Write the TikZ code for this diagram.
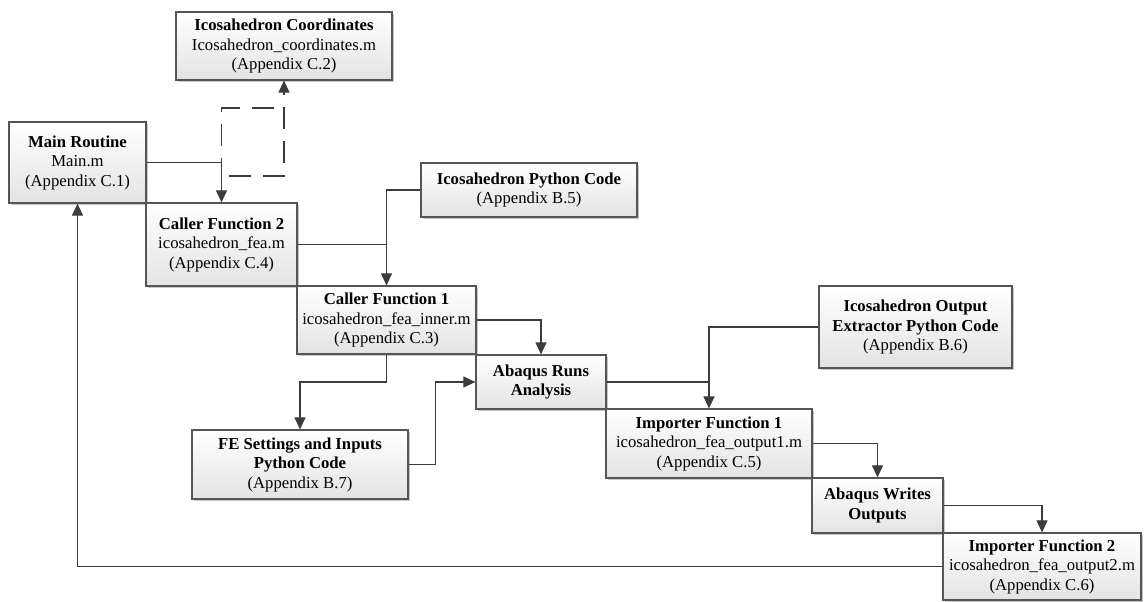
\documentclass[tikz,border=0pt]{standalone}
\usepackage{fontspec}
\setmainfont{Liberation Serif}
\usetikzlibrary{arrows.meta,shadows}
\definecolor{boxline}{HTML}{555555}
\definecolor{connline}{HTML}{3C3C3C}
\tikzset{
  box/.style={draw=boxline, line width=1.2pt, top color=white, bottom color=black!11,
    inner sep=0pt, align=center, font=\fontsize{16.7}{19.5}\selectfont,
    drop shadow={shadow xshift=1.6pt, shadow yshift=-1.6pt, fill=black!40, opacity=0.55}},
  conn/.style={draw=connline, line width=1.1pt, -{Triangle[length=12pt,width=11pt]}},
  plain/.style={draw=connline, line width=1.1pt},
  dashconn/.style={conn, dash pattern=on 22pt off 12pt},
  dashplain/.style={plain, dash pattern=on 22pt off 12pt},
}
\begin{document}
\begin{tikzpicture}[x=1pt,y=-1pt]
\useasboundingbox (0,0) rectangle (1144,602);
% boxes
\node[box, minimum width=216pt, minimum height=68pt] (coords) at (284,46)
  {\textbf{Icosahedron Coordinates}\\Icosahedron\_coordinates.m\\(Appendix C.2)};
\node[box, minimum width=137pt, minimum height=81pt] (main) at (77.5,162.5)
  {\textbf{Main Routine}\\Main.m\\(Appendix C.1)};
\node[box, minimum width=151pt, minimum height=83pt] (caller2) at (221.5,244.5)
  {\textbf{Caller Function 2}\\icosahedron\_fea.m\\(Appendix C.4)};
\node[box, minimum width=216pt, minimum height=54pt] (pycode) at (529,190)
  {\textbf{Icosahedron Python Code}\\(Appendix B.5)};
\node[box, minimum width=179pt, minimum height=68pt] (caller1) at (386.5,320)
  {\textbf{Caller Function 1}\\icosahedron\_fea\_inner.m\\(Appendix C.3)};
\node[box, minimum width=216pt, minimum height=69pt] (fe) at (300,464.5)
  {\textbf{FE Settings and Inputs}\\\textbf{Python Code}\\(Appendix B.7)};
\node[box, minimum width=130pt, minimum height=54pt] (runs) at (541,382)
  {\textbf{Abaqus Runs}\\\textbf{Analysis}};
\node[box, minimum width=193pt, minimum height=82pt] (extr) at (915.5,327)
  {\textbf{Icosahedron Output}\\\textbf{Extractor Python Code}\\(Appendix B.6)};
\node[box, minimum width=206pt, minimum height=69pt] (imp1) at (709,443.5)
  {\textbf{Importer Function 1}\\icosahedron\_fea\_output1.m\\(Appendix C.5)};
\node[box, minimum width=131pt, minimum height=55pt] (writes) at (877.5,505.5)
  {\textbf{Abaqus Writes}\\\textbf{Outputs}};
\node[box, minimum width=198pt, minimum height=67pt] (imp2) at (1042,566.5)
  {\textbf{Importer Function 2}\\icosahedron\_fea\_output2.m\\(Appendix C.6)};
% helper coordinates
\coordinate (d1) at (284,176);
\coordinate (d2) at (274,108);
% connectors
\draw[conn] (main.east) -| (caller2.north);
\draw[dashconn] (caller2.north) |- (d1) -- (coords.south);
\draw[dashplain] (d2) -| (main.east -| caller2.north);
\draw[plain] (caller2.east) -- (caller2.east -| caller1.north);
\draw[conn] (pycode.west) -| (caller1.north);
\draw[conn] (caller1.east) -| (runs.north);
\draw[conn] (caller1.south) -- (caller1.south |- runs.west) -| (fe.north);
\draw[conn] (fe.east) -- ++(27,0) |- (runs.west);
\draw[plain] (runs.east) -- (runs.east -| imp1.north);
\draw[conn] (extr.west) -| (imp1.north);
\draw[conn] (imp1.east) -| (writes.north);
\draw[conn] (writes.east) -| (imp2.north);
\draw[conn] (imp2.west) -| (main.south);
\end{tikzpicture}
\end{document}
